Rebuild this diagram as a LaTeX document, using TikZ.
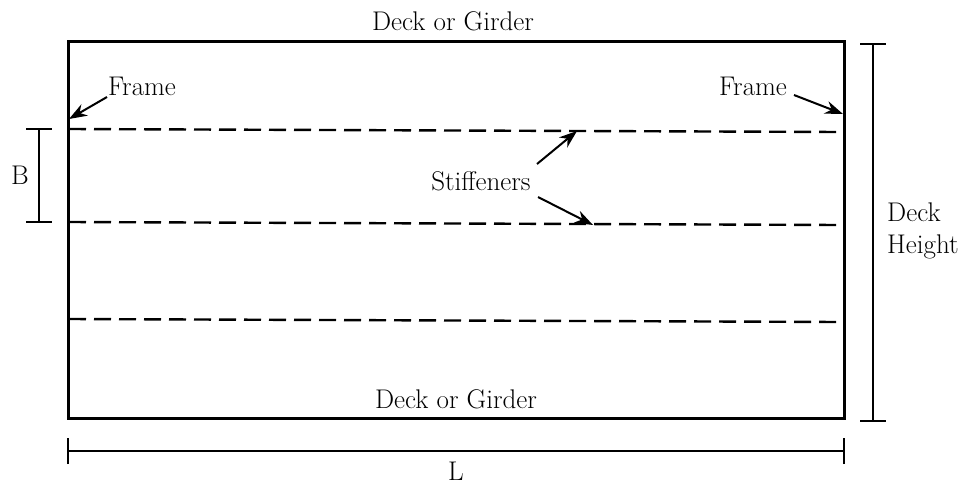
\documentclass[tikz,border=0pt]{standalone}
\usetikzlibrary{arrows.meta}
\begin{document}
\begin{tikzpicture}[x=1pt,y=-1pt,
  lbl/.style={inner sep=0pt,font=\fontsize{27}{32}\selectfont},
  frameline/.style={line width=3pt,line join=miter},
  stiff/.style={line width=2.4pt,dash pattern=on 17pt off 8pt},
  dimline/.style={line width=1.4pt},
  pointer/.style={line width=2pt,-{Stealth[length=18pt,width=13pt]}}]
\useasboundingbox (0,0) rectangle (969,485);
% panel
\draw[frameline] (68,41) rectangle (844,418);
% stiffeners
\draw[stiff] (69,129) -- (840,132);
\draw[stiff] (69,222) -- (840,225);
\draw[stiff] (69,319) -- (840,322);
% labels
\node[lbl] (top) at (453,21) {Deck or Girder};
\node[lbl] (bot) at (456,399) {Deck or Girder};
\node[lbl] (fl) at (142,86) {Frame};
\node[lbl] (fr) at (753,86) {Frame};
\node[lbl] (st) at (481,181) {Stiffeners};
\node[lbl] (b) at (20,175) {B};
\node[lbl] (l) at (456,471) {L};
\node[lbl,align=left,anchor=west] (dh) at (887,231) {Deck\\Height};
% frame pointers
\coordinate (fla) at (107,97);
\coordinate (flb) at (69,119);
\coordinate (fra) at (794,95);
\coordinate (frb) at (843,114);
\draw[pointer] (fla) -- (flb);
\draw[pointer] (fra) -- (frb);
% stiffener pointers
\coordinate (sa1) at (537,164);
\coordinate (sb1) at (577,131);
\coordinate (sa2) at (538,197);
\coordinate (sb2) at (593,225);
\draw[pointer] (sa1) -- (sb1);
\draw[pointer] (sa2) -- (sb2);
% B dimension
\coordinate (b1) at (39,129);
\coordinate (b2) at (39,222);
\draw[dimline] (b1) -- (b2);
\draw[dimline] ([xshift=-13pt]b1) -- ([xshift=13pt]b1);
\draw[dimline] ([xshift=-13pt]b2) -- ([xshift=13pt]b2);
% Deck Height dimension
\coordinate (h1) at (873,44);
\coordinate (h2) at (873,421);
\draw[dimline] (h1) -- (h2);
\draw[dimline] ([xshift=-13pt]h1) -- ([xshift=13pt]h1);
\draw[dimline] ([xshift=-13pt]h2) -- ([xshift=13pt]h2);
% L dimension
\coordinate (l1) at (68,451);
\coordinate (l2) at (844,451);
\draw[dimline] (l1) -- (l2);
\draw[dimline] ([yshift=-13pt]l1) -- ([yshift=13pt]l1);
\draw[dimline] ([yshift=-13pt]l2) -- ([yshift=13pt]l2);
\end{tikzpicture}
\end{document}
